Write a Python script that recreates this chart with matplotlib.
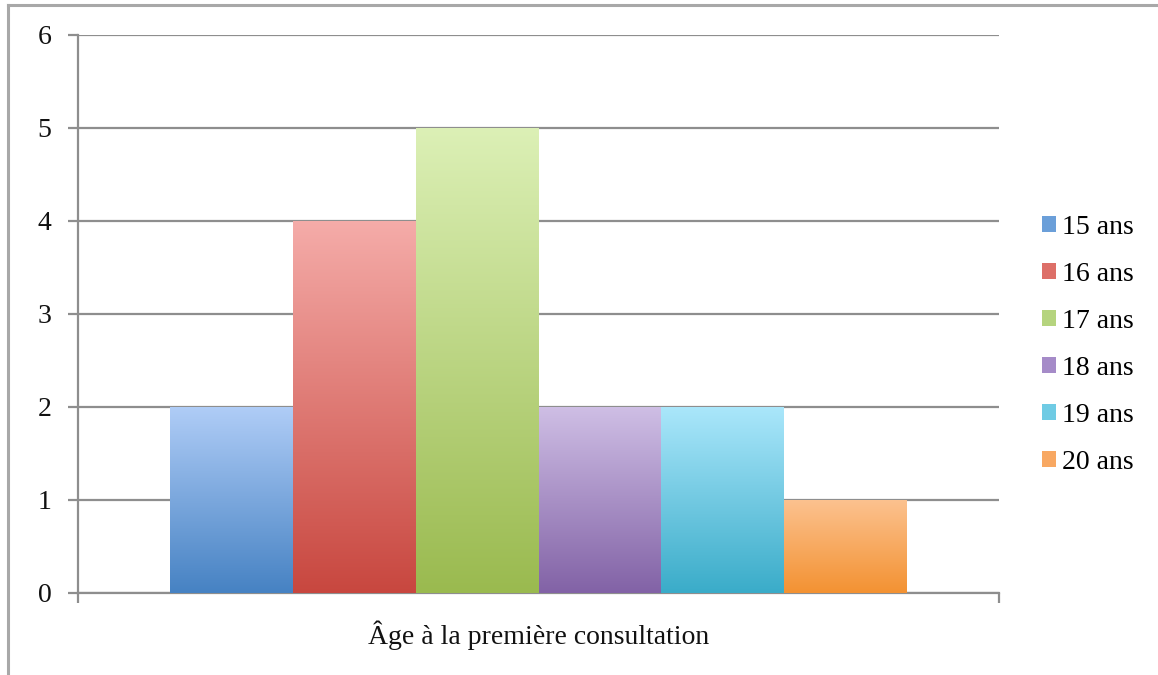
import numpy as np
import matplotlib
matplotlib.use("Agg")
import matplotlib.pyplot as plt
from matplotlib.colors import to_rgb
from matplotlib.patches import Patch
from matplotlib.lines import Line2D

# Data
categories = ["15 ans", "16 ans", "17 ans", "18 ans", "19 ans", "20 ans"]
counts = [2, 4, 5, 2, 2, 1]
x_label = "Âge à la première consultation"
y_ticks = [0, 1, 2, 3, 4, 5, 6]

# Gradient colours (top, bottom) per series
top_colors = ["#b0cdf7", "#f5aca9", "#dcf0b6", "#cfbfe5", "#abe7fb", "#fcc290"]
bottom_colors = ["#4682c3", "#c8473f", "#9aba4f", "#8262a6", "#3aacc9", "#f39232"]
mid_colors = ["#6b9fd9", "#dd6f68", "#b5d47e", "#a58bc8", "#6fcbe4", "#f8a862"]

plt.rcParams["font.family"] = ["Liberation Serif", "DejaVu Serif"]

fig = plt.figure(figsize=(11.58, 6.75), dpi=100)
ax = fig.add_axes([0.0674, 0.1215, 0.7953, 0.8267])

grid_col = "#8e8e8e"
n = len(categories)
width = 0.8 / n
centers = [-0.4 + width * (i + 0.5) for i in range(n)]

bars = ax.bar(centers, counts, width=width, color="none", edgecolor="none", zorder=3)

# Fill each bar with a vertical gradient (light at top, darker at bottom)
for bar, c_top, c_bot in zip(bars, top_colors, bottom_colors):
    x0, y0 = bar.get_x(), bar.get_y()
    w, h = bar.get_width(), bar.get_height()
    t = np.linspace(0, 1, 256)[:, None]
    rgb = (1 - t) * np.array(to_rgb(c_top)) + t * np.array(to_rgb(c_bot))
    img = rgb[:, None, :].repeat(2, axis=1)
    im = ax.imshow(img, extent=[x0, x0 + w, y0, y0 + h], aspect="auto",
                   origin="upper", zorder=3, interpolation="bilinear")
    im.set_clip_path(bar)

ax.set_xlim(-0.5, 0.5)
ax.set_ylim(0, 6)
ax.set_yticks(y_ticks)
ax.set_xticks([-0.5, 0.5])
ax.set_xticklabels([])

ax.yaxis.grid(True, color=grid_col, linewidth=1.6, zorder=1)
ax.set_axisbelow(True)
for side in ("top", "right"):
    ax.spines[side].set_visible(False)
for side in ("left", "bottom"):
    ax.spines[side].set_color(grid_col)
    ax.spines[side].set_linewidth(1.6)
ax.tick_params(axis="y", direction="out", length=7, width=1.6, color=grid_col,
               labelsize=20, pad=12, labelcolor="#111111")
ax.tick_params(axis="x", direction="out", length=7, width=1.6, color=grid_col)

ax.set_xlabel(x_label, fontsize=20, color="#111111", labelpad=9)

handles = [Patch(facecolor=c, edgecolor="none") for c in mid_colors]
fig.legend(handles, categories, loc="center left", bbox_to_anchor=(0.9, 0.489),
           frameon=False, fontsize=20, handlelength=0.5, handleheight=0.5,
           handletextpad=0.22, labelspacing=0.79, borderaxespad=0, borderpad=0)

# Outer frame around the chart area
fig.add_artist(Line2D([0.007, 1.0], [0.993, 0.993], color="#a8a8a8", linewidth=2.2,
                      transform=fig.transFigure))
fig.add_artist(Line2D([0.007, 0.007], [0.0, 0.993], color="#a8a8a8", linewidth=2.2,
                      transform=fig.transFigure))

fig.savefig("out.png", dpi=100)
